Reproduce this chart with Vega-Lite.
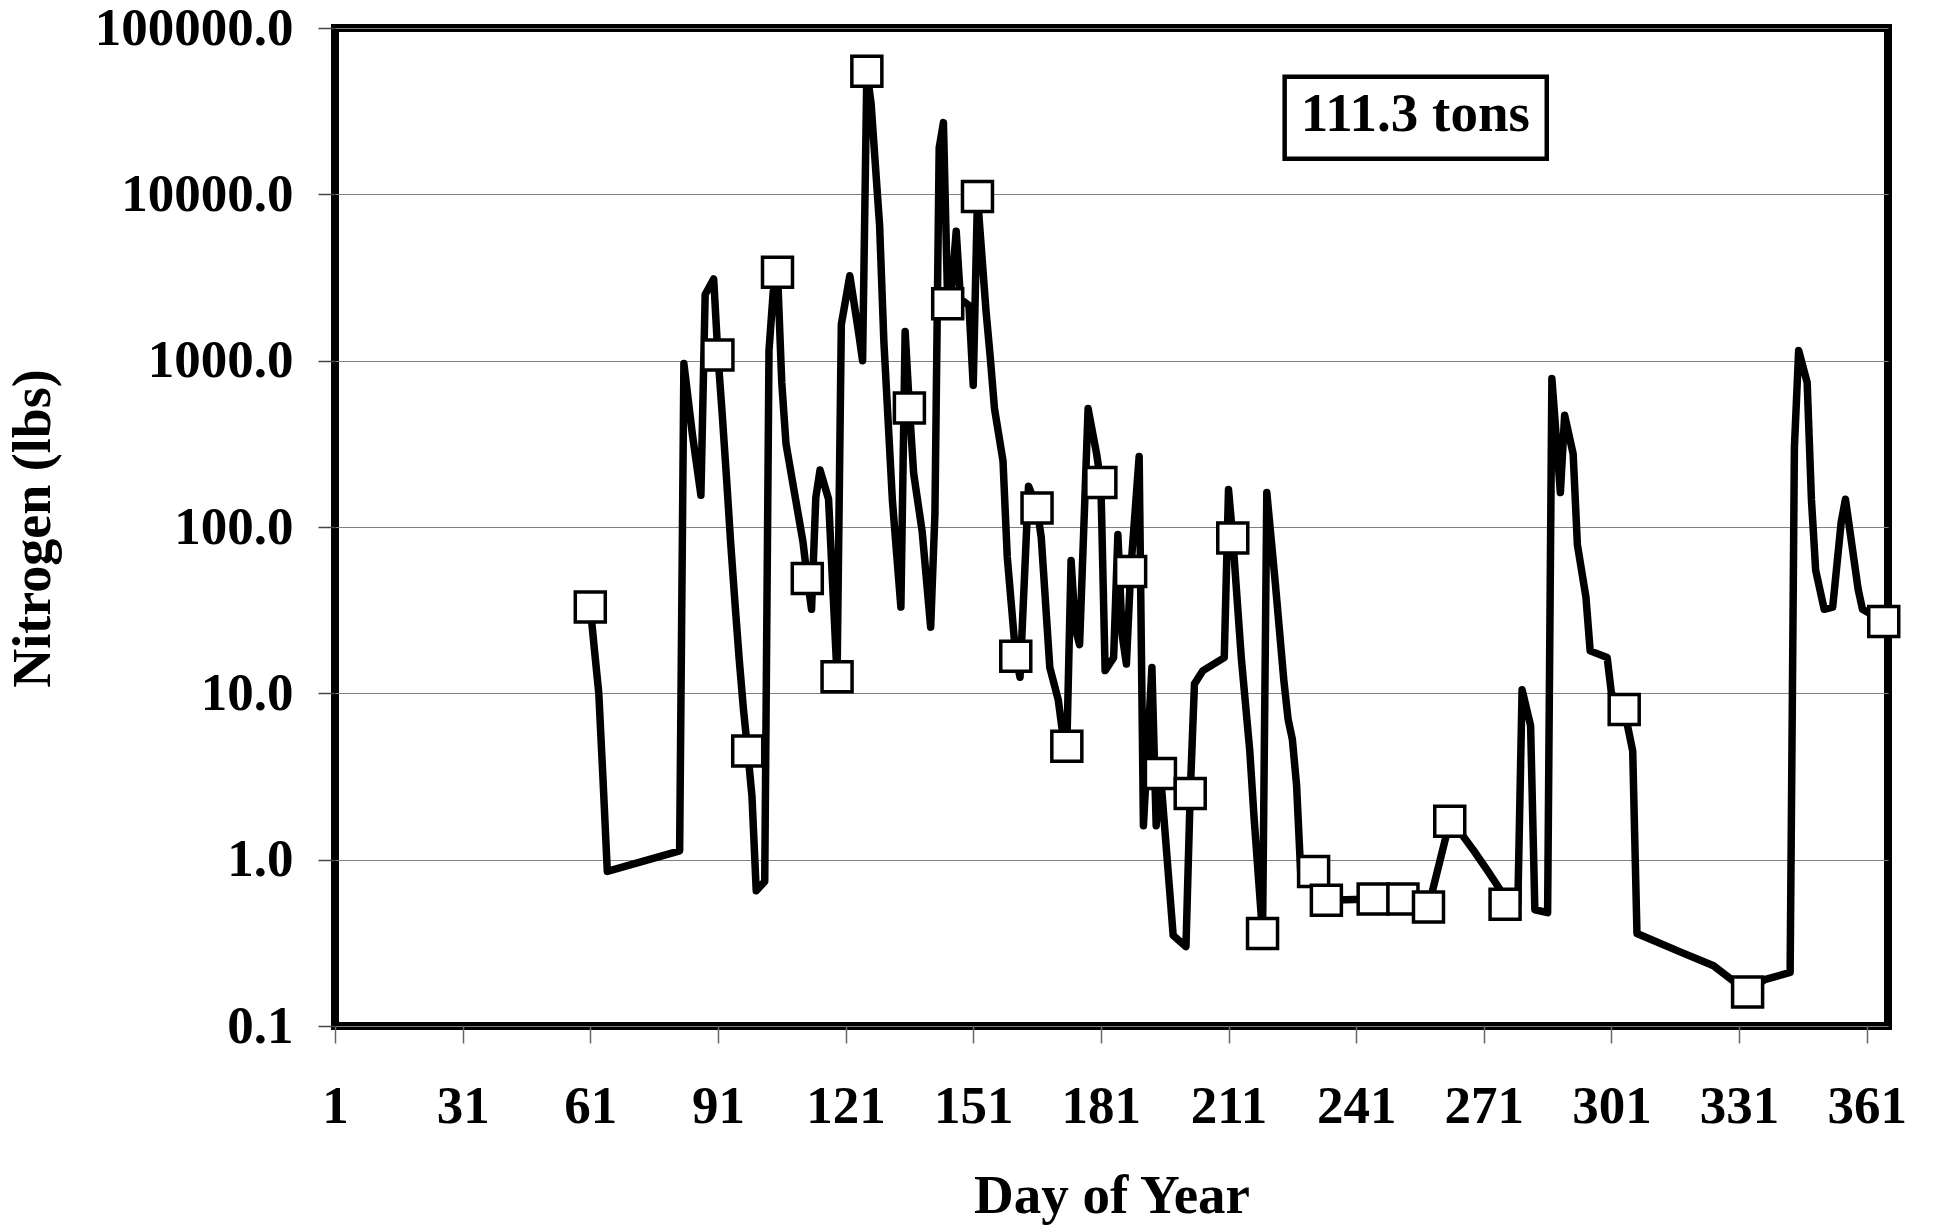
{
  "$schema": "https://vega.github.io/schema/vega-lite/v6.json",
  "width": 1553,
  "height": 998,
  "autosize": {"type": "none"},
  "padding": {"left": 335, "top": 28, "right": 46, "bottom": 199},
  "background": "white",
  "config": {"view": {"stroke": "black", "strokeWidth": 8}, "font": "Liberation Serif"},
  "datasets": {
    "daily": [
      {"day": 61, "nitrogen": 33}, {"day": 62, "nitrogen": 18}, {"day": 63, "nitrogen": 10}, {"day": 64, "nitrogen": 3},
      {"day": 65, "nitrogen": 0.85}, {"day": 82, "nitrogen": 1.13}, {"day": 83, "nitrogen": 960}, {"day": 85, "nitrogen": 360},
      {"day": 87, "nitrogen": 155}, {"day": 88, "nitrogen": 2500}, {"day": 90, "nitrogen": 3100}, {"day": 91, "nitrogen": 1080},
      {"day": 92, "nitrogen": 480}, {"day": 93, "nitrogen": 200}, {"day": 94, "nitrogen": 80}, {"day": 95, "nitrogen": 35},
      {"day": 96, "nitrogen": 16}, {"day": 97, "nitrogen": 8}, {"day": 98, "nitrogen": 4.5}, {"day": 99, "nitrogen": 2.4},
      {"day": 100, "nitrogen": 0.65}, {"day": 102, "nitrogen": 0.74}, {"day": 103, "nitrogen": 1150}, {"day": 104, "nitrogen": 2600},
      {"day": 105, "nitrogen": 3400}, {"day": 106, "nitrogen": 740}, {"day": 107, "nitrogen": 316}, {"day": 109, "nitrogen": 160},
      {"day": 111, "nitrogen": 81}, {"day": 112, "nitrogen": 49}, {"day": 113, "nitrogen": 32}, {"day": 114, "nitrogen": 150},
      {"day": 115, "nitrogen": 220}, {"day": 117, "nitrogen": 147}, {"day": 119, "nitrogen": 12.6}, {"day": 120, "nitrogen": 1650},
      {"day": 122, "nitrogen": 3240}, {"day": 124, "nitrogen": 1510}, {"day": 125, "nitrogen": 1000}, {"day": 126, "nitrogen": 55000},
      {"day": 127, "nitrogen": 35000}, {"day": 129, "nitrogen": 6500}, {"day": 130, "nitrogen": 1300}, {"day": 132, "nitrogen": 145},
      {"day": 134, "nitrogen": 33}, {"day": 135, "nitrogen": 1500}, {"day": 136, "nitrogen": 520}, {"day": 137, "nitrogen": 210},
      {"day": 139, "nitrogen": 94}, {"day": 141, "nitrogen": 25}, {"day": 142, "nitrogen": 120}, {"day": 143, "nitrogen": 19000},
      {"day": 144, "nitrogen": 27000}, {"day": 145, "nitrogen": 2200}, {"day": 146, "nitrogen": 2850}, {"day": 147, "nitrogen": 6000},
      {"day": 148, "nitrogen": 2350}, {"day": 150, "nitrogen": 2150}, {"day": 151, "nitrogen": 710}, {"day": 152, "nitrogen": 9700},
      {"day": 154, "nitrogen": 2000}, {"day": 155, "nitrogen": 1050}, {"day": 156, "nitrogen": 515}, {"day": 158, "nitrogen": 250},
      {"day": 159, "nitrogen": 66}, {"day": 161, "nitrogen": 16.7}, {"day": 162, "nitrogen": 12.5}, {"day": 164, "nitrogen": 176},
      {"day": 166, "nitrogen": 130}, {"day": 167, "nitrogen": 86}, {"day": 169, "nitrogen": 14.3}, {"day": 171, "nitrogen": 9.1},
      {"day": 172, "nitrogen": 5.8}, {"day": 173, "nitrogen": 4.8}, {"day": 174, "nitrogen": 63}, {"day": 175, "nitrogen": 24.5},
      {"day": 176, "nitrogen": 19.6}, {"day": 178, "nitrogen": 515}, {"day": 180, "nitrogen": 275}, {"day": 181, "nitrogen": 185},
      {"day": 182, "nitrogen": 13.7}, {"day": 184, "nitrogen": 16.4}, {"day": 185, "nitrogen": 90}, {"day": 186, "nitrogen": 22.4},
      {"day": 187, "nitrogen": 15}, {"day": 188, "nitrogen": 54}, {"day": 190, "nitrogen": 265}, {"day": 191, "nitrogen": 1.6},
      {"day": 193, "nitrogen": 14.3}, {"day": 194, "nitrogen": 1.6}, {"day": 195, "nitrogen": 3.3}, {"day": 198, "nitrogen": 0.35},
      {"day": 201, "nitrogen": 0.3}, {"day": 202, "nitrogen": 2.5}, {"day": 203, "nitrogen": 11.4}, {"day": 205, "nitrogen": 13.7},
      {"day": 210, "nitrogen": 16.4}, {"day": 211, "nitrogen": 168}, {"day": 212, "nitrogen": 86}, {"day": 214, "nitrogen": 16.4},
      {"day": 216, "nitrogen": 4.5}, {"day": 217, "nitrogen": 1.8}, {"day": 219, "nitrogen": 0.36}, {"day": 220, "nitrogen": 161},
      {"day": 222, "nitrogen": 46}, {"day": 224, "nitrogen": 12}, {"day": 225, "nitrogen": 7}, {"day": 226, "nitrogen": 5.3},
      {"day": 227, "nitrogen": 2.8}, {"day": 228, "nitrogen": 0.8}, {"day": 231, "nitrogen": 0.85}, {"day": 234, "nitrogen": 0.57},
      {"day": 245, "nitrogen": 0.58}, {"day": 252, "nitrogen": 0.58}, {"day": 258, "nitrogen": 0.52}, {"day": 263, "nitrogen": 1.7},
      {"day": 266, "nitrogen": 1.4}, {"day": 269, "nitrogen": 1.1}, {"day": 272, "nitrogen": 0.85}, {"day": 275, "nitrogen": 0.65},
      {"day": 276, "nitrogen": 0.54}, {"day": 279, "nitrogen": 0.54}, {"day": 280, "nitrogen": 10.5}, {"day": 282, "nitrogen": 6.4},
      {"day": 283, "nitrogen": 0.5}, {"day": 286, "nitrogen": 0.48}, {"day": 287, "nitrogen": 780}, {"day": 289, "nitrogen": 161},
      {"day": 290, "nitrogen": 470}, {"day": 292, "nitrogen": 275}, {"day": 293, "nitrogen": 78}, {"day": 295, "nitrogen": 38},
      {"day": 296, "nitrogen": 18}, {"day": 300, "nitrogen": 16.4}, {"day": 301, "nitrogen": 10}, {"day": 304, "nitrogen": 8},
      {"day": 306, "nitrogen": 4.5}, {"day": 307, "nitrogen": 0.36}, {"day": 317, "nitrogen": 0.28}, {"day": 325, "nitrogen": 0.23},
      {"day": 333, "nitrogen": 0.16}, {"day": 337, "nitrogen": 0.19}, {"day": 343, "nitrogen": 0.21}, {"day": 344, "nitrogen": 300},
      {"day": 345, "nitrogen": 1150}, {"day": 347, "nitrogen": 740}, {"day": 348, "nitrogen": 147}, {"day": 349, "nitrogen": 55},
      {"day": 351, "nitrogen": 32}, {"day": 353, "nitrogen": 33}, {"day": 355, "nitrogen": 107}, {"day": 356, "nitrogen": 147},
      {"day": 359, "nitrogen": 42}, {"day": 360, "nitrogen": 32}, {"day": 365, "nitrogen": 27}
    ],
    "samples": [
      {"day": 61, "nitrogen": 33}, {"day": 91, "nitrogen": 1080}, {"day": 98, "nitrogen": 4.5}, {"day": 105, "nitrogen": 3400},
      {"day": 112, "nitrogen": 49}, {"day": 119, "nitrogen": 12.6}, {"day": 126, "nitrogen": 55000}, {"day": 136, "nitrogen": 520},
      {"day": 145, "nitrogen": 2200}, {"day": 152, "nitrogen": 9700}, {"day": 161, "nitrogen": 16.7}, {"day": 166, "nitrogen": 130},
      {"day": 173, "nitrogen": 4.8}, {"day": 181, "nitrogen": 185}, {"day": 188, "nitrogen": 54}, {"day": 195, "nitrogen": 3.3},
      {"day": 202, "nitrogen": 2.5}, {"day": 212, "nitrogen": 86}, {"day": 219, "nitrogen": 0.36}, {"day": 231, "nitrogen": 0.85},
      {"day": 234, "nitrogen": 0.57}, {"day": 245, "nitrogen": 0.58}, {"day": 252, "nitrogen": 0.58}, {"day": 258, "nitrogen": 0.52},
      {"day": 263, "nitrogen": 1.7}, {"day": 276, "nitrogen": 0.54}, {"day": 304, "nitrogen": 8}, {"day": 333, "nitrogen": 0.16},
      {"day": 365, "nitrogen": 27}
    ]
  },
  "layer": [
    {
      "data": {"name": "daily"},
      "mark": {"type": "line", "color": "black", "strokeWidth": 7.5, "strokeJoin": "round", "strokeCap": "round"},
      "encoding": {
        "x": {
          "field": "day", "type": "quantitative",
          "scale": {"domain": [1, 366], "nice": false, "zero": false},
          "axis": {
            "values": [1, 31, 61, 91, 121, 151, 181, 211, 241, 271, 301, 331, 361],
            "format": "d", "title": "Day of Year", "grid": false, "domain": false,
            "tickSize": 17, "tickColor": "#666666", "tickWidth": 1.5,
            "labelFont": "Liberation Serif", "labelFontSize": 53, "labelFontWeight": "bold", "labelColor": "black",
            "labelBaseline": "alphabetic", "labelPadding": 79, "labelFlush": false, "labelOverlap": false, "labelBound": false, "labelLimit": 400,
            "titleFont": "Liberation Serif", "titleFontSize": 55, "titleFontWeight": "bold", "titleColor": "black",
            "titleBaseline": "alphabetic", "titleY": 186
          }
        },
        "y": {
          "field": "nitrogen", "type": "quantitative",
          "scale": {"type": "log", "domain": [0.1, 100000], "nice": false},
          "axis": {
            "values": [0.1, 1, 10, 100, 1000, 10000, 100000],
            "format": ".1f", "title": "Nitrogen (lbs)", "grid": true, "gridColor": "#808080", "gridWidth": 1, "domain": false,
            "tickSize": 17, "tickColor": "#444444", "tickWidth": 1.5,
            "labelFont": "Liberation Serif", "labelFontSize": 53, "labelFontWeight": "bold", "labelColor": "black",
            "labelBaseline": "middle", "labelPadding": 25, "labelFlush": false, "labelOverlap": false, "labelBound": false, "labelLimit": 400,
            "titleFont": "Liberation Serif", "titleFontSize": 54, "titleFontWeight": "bold", "titleColor": "black",
            "titleAngle": 270, "titleBaseline": "alphabetic", "titleAlign": "center", "titleX": -286, "titleY": 500
          }
        }
      }
    },
    {
      "data": {"name": "samples"},
      "mark": {"type": "point", "shape": "square", "filled": true, "fill": "white", "stroke": "black", "strokeWidth": 3.5, "size": 900, "opacity": 1},
      "encoding": {
        "x": {"field": "day", "type": "quantitative"},
        "y": {"field": "nitrogen", "type": "quantitative"}
      }
    },
    {
      "data": {"values": [{}]},
      "mark": {"type": "rect", "fill": "white", "stroke": "black", "strokeWidth": 4.5},
      "encoding": {
        "x": {"datum": 224.2, "type": "quantitative"},
        "x2": {"datum": 285.8},
        "y": {"datum": 50900, "type": "quantitative"},
        "y2": {"datum": 16380}
      }
    },
    {
      "data": {"values": [{}]},
      "mark": {"type": "text", "text": "111.3 tons", "font": "Liberation Serif", "fontSize": 55, "fontWeight": "bold", "color": "black", "align": "center", "baseline": "alphabetic"},
      "encoding": {
        "x": {"datum": 254.9, "type": "quantitative"},
        "y": {"datum": 24150, "type": "quantitative"}
      }
    }
  ]
}
